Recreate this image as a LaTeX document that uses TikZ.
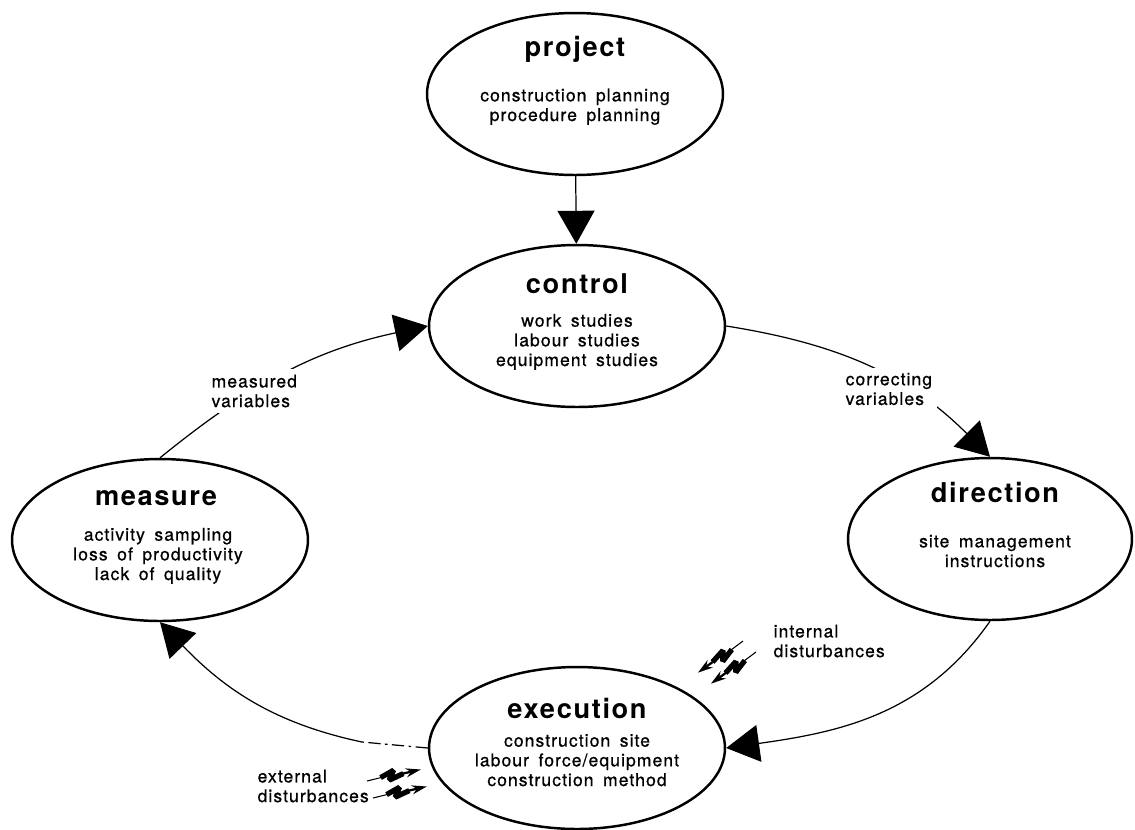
\documentclass[tikz,border=0pt]{standalone}
\usepackage{fontspec}
\setmainfont{TeX Gyre Heros}
\newfontfamily\spacedfont{TeX Gyre Heros}[LetterSpace=6,WordSpace=1.6]
\newfontfamily\mediumfont{TeX Gyre Heros}[LetterSpace=6,WordSpace=1.6,FakeBold=0.7]
\usetikzlibrary{shapes.geometric,arrows.meta}

\tikzset{
  bolt/.pic={
    \draw[line width=0.6pt] (0,0) -- (15,-1);
    \draw[line width=3pt, line join=bevel] (14,-1) -- (28,-6) -- (22,3) -- (37,-1);
    \draw[line width=1.3pt, -{Stealth[length=0.3cm,width=0.18cm]}] (35,-1) -- (55,-2);
  }
}

\begin{document}
\begin{tikzpicture}[x=0.02cm, y=-0.02cm,
  box/.style={ellipse, draw, line width=1.4pt, minimum width=5.92cm, minimum height=3.24cm, inner sep=0pt},
  ttl/.style={anchor=base, inner sep=0pt, font=\spacedfont\bfseries\fontsize{15.5}{18}\selectfont},
  txt/.style={anchor=base, align=center, inner sep=0pt, font=\mediumfont\fontsize{10}{11.2}\selectfont},
  lbl/.style={anchor=west, align=left, fill=white, inner sep=3pt, font=\mediumfont\fontsize{10}{11.2}\selectfont},
  arr/.style={line width=0.7pt, -{Triangle[length=0.66cm,width=0.74cm]}}]
\useasboundingbox (0,0) rectangle (1135,829);

% the five stages
\node[box] (prj) at (575,94) {};
\node[box] (ctl) at (577,326) {};
\node[box, minimum width=5.68cm] (dir) at (990,539) {};
\node[box] (msr) at (160,540) {};
\node[box] (exe) at (577,748) {};

% titles at their baselines, bodies at the baseline of their last line
\node[ttl] (prj-t) at (575,56) {project};
\node[txt] (prj-b) at (575,121) {construction planning\\procedure planning};
\node[ttl] (ctl-t) at (577,293) {control};
\node[txt] (ctl-b) at (577,366) {work studies\\labour studies\\equipment studies};
\node[ttl] (dir-t) at (995,502) {direction};
\node[txt] (dir-b) at (995,567) {site management\\instructions};
\node[ttl] (msr-t) at (156,505) {measure};
\node[txt] (msr-b) at (158,580) {activity sampling\\loss of productivity\\lack of quality};
\node[ttl] (exe-t) at (577,718) {execution};
\node[txt] (exe-b) at (577,786) {construction site\\labour force/equipment\\construction method};

% the loop
\draw[arr] (prj) -- (ctl);
\draw[arr] (ctl.east) to[out=-9, in=135] (dir.north);
\draw[arr] (dir.south) to[out=235, in=8] (exe.east);
\coordinate (brk) at (362,742);
\draw[line width=0.7pt, dash pattern=on 7pt off 2.5pt on 1.5pt off 2.5pt] (exe.west) -- (brk);
\draw[arr] (brk) to[out=168, in=-46] (msr.south);
\draw[arr] (msr.north) to[out=39, in=192] (ctl.west);

\node[lbl] (mv) at (206,391) {measured\\variables};
\node[lbl] (cv) at (840,389) {correcting\\variables};
\node[lbl] (id) at (768,641) {internal\\disturbances};
\node[lbl] (ed) at (252,786) {external\\disturbances};

% disturbances
\pic[rotate=10] at (367,781) {bolt};
\pic[rotate=10] at (373,798) {bolt};
\pic[rotate=213] at (743,641) {bolt};
\pic[rotate=213] at (756,652) {bolt};
\end{tikzpicture}
\end{document}
